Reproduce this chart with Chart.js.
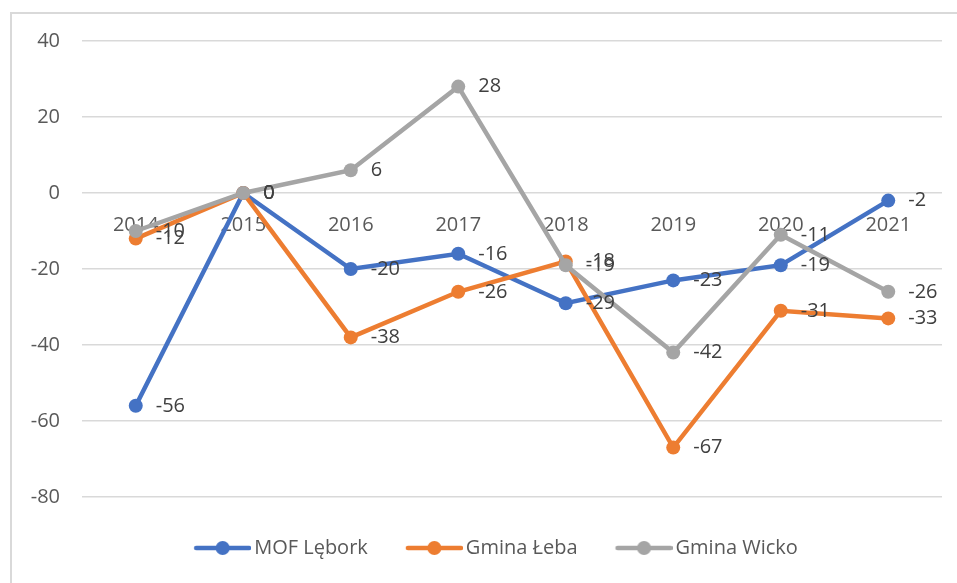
<!DOCTYPE html>
<html>
<head>
<meta charset="utf-8">
<script src="https://cdn.jsdelivr.net/npm/chart.js@4.4.1/dist/chart.umd.min.js"></script>
<style>
  html, body { margin: 0; padding: 0; background: #fff; overflow: hidden; }
  #frame { position: absolute; left: 10px; top: 12px; width: 960px; height: 580px; border: 2px solid #d9d9d9; box-sizing: border-box; }
  #wrap { position: absolute; left: 0; top: 0; width: 957px; height: 583px; }
</style>
</head>
<body>
<div id="frame"></div>
<div id="wrap"><canvas id="lineChart"></canvas></div>
<script>
const years = ["2014", "2015", "2016", "2017", "2018", "2019", "2020", "2021"];
const mofLebork = [-56, 0, -20, -16, -29, -23, -19, -2];
const gminaLeba = [-12, 0, -38, -26, -18, -67, -31, -33];
const gminaWicko = [-10, 0, 6, 28, -19, -42, -11, -26];
const seriesNames = ["MOF Lębork", "Gmina Łeba", "Gmina Wicko"];
const seriesColors = ["#4472C4", "#ED7D31", "#A5A5A5"];
const yMin = -80;
const yMax = 40;
const yStep = 20;

const FONT = "'Open Sans', 'Noto Sans', sans-serif";

// legend icon: line with a dot, padded on the left so spacing looks like Excel
function legendIcon(color) {
  const c = document.createElement("canvas");
  c.width = 92;
  c.height = 16;
  const ctx = c.getContext("2d");
  ctx.strokeStyle = color;
  ctx.lineWidth = 4.5;
  ctx.lineCap = "round";
  ctx.beginPath();
  ctx.moveTo(37, 8);
  ctx.lineTo(90, 8);
  ctx.stroke();
  ctx.fillStyle = color;
  ctx.beginPath();
  ctx.arc(63.5, 8, 7, 0, Math.PI * 2);
  ctx.fill();
  return c;
}
const icons = seriesColors.map(legendIcon);

// draws the value to the right of every point
const valueLabels = {
  id: "valueLabels",
  afterDatasetsDraw(chart) {
    const ctx = chart.ctx;
    ctx.save();
    ctx.font = "20px " + FONT;
    ctx.fillStyle = "#404040";
    ctx.textAlign = "left";
    ctx.textBaseline = "middle";
    chart.data.datasets.forEach((ds, i) => {
      const meta = chart.getDatasetMeta(i);
      meta.data.forEach((pt, j) => {
        ctx.fillText(String(ds.data[j]), pt.x + 20, pt.y);
      });
    });
    ctx.restore();
  }
};

const allSeries = [mofLebork, gminaLeba, gminaWicko];

new Chart(document.getElementById("lineChart"), {
  type: "line",
  data: {
    labels: years,
    datasets: allSeries.map((vals, i) => ({
      label: seriesNames[i],
      data: vals,
      borderColor: seriesColors[i],
      backgroundColor: seriesColors[i],
      borderWidth: 4.5,
      pointRadius: 7,
      pointBorderWidth: 0,
      pointBackgroundColor: seriesColors[i],
      tension: 0,
      order: 3 - i
    }))
  },
  options: {
    responsive: true,
    maintainAspectRatio: false,
    animation: false,
    layout: { padding: { left: 22, right: 15, top: 41, bottom: 15 } },
    scales: {
      x: {
        position: { y: 0 },
        offset: true,
        grid: { display: false, drawTicks: false },
        border: { display: false },
        ticks: { color: "#595959", font: { family: FONT, size: 20 }, padding: 20 }
      },
      y: {
        min: yMin,
        max: yMax,
        grid: { color: "#d9d9d9", lineWidth: 1.5, drawTicks: false },
        border: { display: false },
        ticks: { stepSize: yStep, color: "#595959", font: { family: FONT, size: 20 }, padding: 22 },
        afterFit(scale) { scale.width = 60; }
      }
    },
    plugins: {
      tooltip: { enabled: false },
      legend: {
        position: "bottom",
        title: { display: true, text: " ", font: { size: 10 }, padding: { top: 19, bottom: 0 } },
        labels: {
          usePointStyle: true,
          pointStyleWidth: 78,
          padding: 10,
          color: "#595959",
          font: { family: FONT, size: 20 },
          generateLabels(chart) {
            const items = Chart.defaults.plugins.legend.labels.generateLabels(chart);
            items.sort((a, b) => a.datasetIndex - b.datasetIndex);
            items.forEach(it => { it.pointStyle = icons[it.datasetIndex]; });
            return items;
          }
        }
      }
    }
  },
  plugins: [valueLabels]
});
</script>
</body>
</html>
